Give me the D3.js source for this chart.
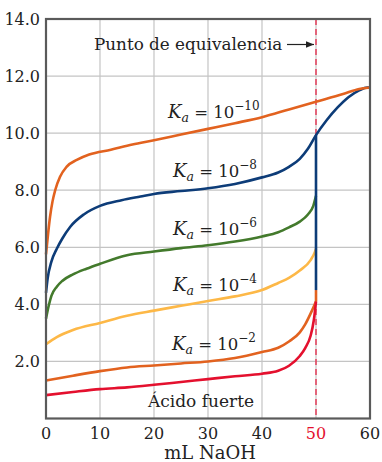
<!DOCTYPE html>
<html>
<head>
<meta charset="utf-8">
<script src="https://cdn.jsdelivr.net/npm/d3@7"></script>
<style>
	body { margin: 0; background: #fff; }
	svg { display: block; font-family: "DejaVu Serif", serif; }
</style>
</head>
<body>
<svg id="viz"></svg>
<script>
// pH readings (mL NaOH, pH) taken off the figure
var strongAcid = [[0,0.82],[5,0.93],[10,1.03],[15,1.09],[20,1.18],[25,1.28],[30,1.38],[35,1.48],[40,1.57],[43,1.67],[45,1.85],[47,2.19],[48,2.47],[49,2.9],[49.6,3.45],[50,4.1]];
var ka2 = [[0,1.33],[5,1.5],[10,1.66],[15,1.79],[20,1.86],[25,1.93],[30,2.0],[35,2.12],[40,2.33],[43,2.48],[45,2.7],[47,3.02],[48,3.3],[49.3,3.8],[50,4.1]];
var ka4 = [[0,2.6],[2,2.85],[5,3.1],[10,3.35],[15,3.6],[20,3.78],[25,3.95],[30,4.12],[35,4.28],[40,4.5],[43,4.75],[45,4.93],[47,5.19],[49,5.55],[49.8,5.84],[50,5.95]];
var ka6 = [[0,3.5],[0.5,3.95],[1,4.3],[2,4.62],[3,4.82],[5,5.05],[7.5,5.25],[10,5.42],[15,5.72],[20,5.85],[25,5.97],[30,6.07],[35,6.2],[40,6.38],[43,6.53],[45,6.7],[47,6.9],[48.5,7.15],[49.5,7.45],[50,7.8]];
var ka8 = [[0,4.4],[0.3,4.9],[1,5.5],[2,5.95],[3,6.3],[4.5,6.72],[7,7.15],[10,7.45],[14,7.65],[17.5,7.78],[20,7.87],[25,7.97],[30,8.07],[35,8.22],[40,8.45],[43,8.62],[45,8.82],[47,9.1],[48.5,9.45],[50,9.93],[52,10.46],[54,10.9],[56,11.26],[58,11.5],[59.5,11.6],[60,11.6]];
var ka10 = [[0,5.75],[0.4,6.5],[0.75,7.07],[1.2,7.6],[1.7,8.0],[2.6,8.47],[3.8,8.82],[5.7,9.06],[8,9.25],[12,9.42],[16,9.6],[20,9.75],[25,9.95],[30,10.15],[35,10.35],[40,10.56],[45,10.83],[50,11.1],[55,11.37],[58,11.55],[60,11.6]];
// vertical jump at the equivalence point
var ka2Jump = [[50,4.1],[50,4.5]];
var equivJump = [[50,4.5],[50,9.93]];

var equivVolume = 50;
var xTicks = [0,10,20,30,40,50,60];
var yTicks = [2,4,6,8,10,12,14];
var kaExponents = ["−10","−8","−6","−4","−2"];

var W = 382, H = 462;
var svg = d3.select('#viz').attr('width', W).attr('height', H);

var x = d3.scaleLinear().domain([0, 60]).range([46, 370]);
var y = d3.scaleLinear().domain([0, 14]).range([418.5, 19]);

var g = svg.append('g');

// grid
g.selectAll('.vgrid').data(xTicks.slice(1, -1))
	.enter().append('line')
	.attr('x1', function(d){ return x(d); }).attr('x2', function(d){ return x(d); })
	.attr('y1', y(0)).attr('y2', y(14))
	.attr('stroke', '#c4c4c4').attr('stroke-width', 1.2);
g.selectAll('.hgrid').data(yTicks.slice(0, -1))
	.enter().append('line')
	.attr('x1', x(0)).attr('x2', x(60))
	.attr('y1', function(d){ return y(d); }).attr('y2', function(d){ return y(d); })
	.attr('stroke', '#c4c4c4').attr('stroke-width', 1.2);

// equivalence line
g.append('line')
	.attr('x1', x(equivVolume)).attr('x2', x(equivVolume))
	.attr('y1', y(14)).attr('y2', y(0))
	.attr('stroke', '#e8173a').attr('stroke-width', 1.2)
	.attr('stroke-dasharray', '6,4');

var line = d3.line()
	.x(function(d){ return x(d[0]); })
	.y(function(d){ return y(d[1]); })
	.curve(d3.curveMonotoneX);
var straight = d3.line()
	.x(function(d){ return x(d[0]); })
	.y(function(d){ return y(d[1]); });

var series = [
	{ data: ka2, color: '#e2621f' },
	{ data: strongAcid, color: '#e4102e' },
	{ data: ka4, color: '#fdb847' },
	{ data: ka6, color: '#437a2c' },
	{ data: ka8, color: '#0d3c78' },
	{ data: ka10, color: '#e2621f' }
];

g.append('path').attr('d', straight(ka2Jump))
	.attr('fill', 'none').attr('stroke', '#e2621f').attr('stroke-width', 2.6);

g.selectAll('.curve').data(series)
	.enter().append('path')
	.attr('class', 'curve')
	.attr('d', function(d){ return line(d.data); })
	.attr('fill', 'none')
	.attr('stroke', function(d){ return d.color; })
	.attr('stroke-width', 2.6)
	.attr('stroke-linejoin', 'round');

g.append('path').attr('d', straight(equivJump))
	.attr('fill', 'none').attr('stroke', '#0d3c78').attr('stroke-width', 2.6);

// frame
g.append('rect')
	.attr('x', x(0)).attr('y', y(14))
	.attr('width', x(60) - x(0)).attr('height', y(0) - y(14))
	.attr('fill', 'none').attr('stroke', '#5a5a5a').attr('stroke-width', 2.2);

// tick labels
g.selectAll('.xlab').data(xTicks)
	.enter().append('text')
	.attr('x', function(d){ return x(d); })
	.attr('y', 439)
	.attr('text-anchor', 'middle')
	.attr('font-size', 16)
	.attr('fill', function(d){ return d === equivVolume ? '#e4102e' : '#222'; })
	.text(function(d){ return d; });

g.selectAll('.ylab').data(yTicks)
	.enter().append('text')
	.attr('x', 40)
	.attr('y', function(d){ return y(d) + 6; })
	.attr('text-anchor', 'end')
	.attr('font-size', 16)
	.attr('fill', '#222')
	.text(function(d){ return d3.format('.1f')(d); });

svg.append('text')
	.attr('x', 210).attr('y', 459)
	.attr('text-anchor', 'middle')
	.attr('font-size', 18)
	.attr('fill', '#222')
	.text('mL NaOH');

// annotation
svg.append('defs').append('marker')
	.attr('id', 'arr').attr('viewBox', '0 0 10 10')
	.attr('refX', 10).attr('refY', 5)
	.attr('markerWidth', 7).attr('markerHeight', 7)
	.attr('orient', 'auto')
	.append('path').attr('d', 'M0,1 L10,5 L0,9 z').attr('fill', '#222');

svg.append('text')
	.attr('x', 94).attr('y', 50)
	.attr('font-size', 16.8)
	.attr('fill', '#222')
	.text('Punto de equivalencia');
svg.append('line')
	.attr('x1', 287).attr('x2', 314)
	.attr('y1', 44.5).attr('y2', 44.5)
	.attr('stroke', '#222').attr('stroke-width', 1.2)
	.attr('marker-end', 'url(#arr)');

// Ka labels
var labelPos = [[168, 118], [173, 177], [173, 235], [173, 291], [172, 350]];
kaExponents.forEach(function(e, i){
	var t = svg.append('text')
		.attr('x', labelPos[i][0]).attr('y', labelPos[i][1])
		.attr('font-size', 16.5).attr('fill', '#222');
	t.append('tspan').attr('font-style', 'italic').attr('font-size', 18).text('K');
	t.append('tspan').attr('font-style', 'italic').attr('font-size', 12.5).attr('dy', 4).text('a');
	t.append('tspan').attr('dy', -4).text(' = 10');
	t.append('tspan').attr('font-size', 12).attr('dy', -8).text(e);
});

svg.append('text')
	.attr('x', 148).attr('y', 407)
	.attr('font-size', 17)
	.attr('fill', '#222')
	.text('Ácido fuerte');
</script>
</body>
</html>
